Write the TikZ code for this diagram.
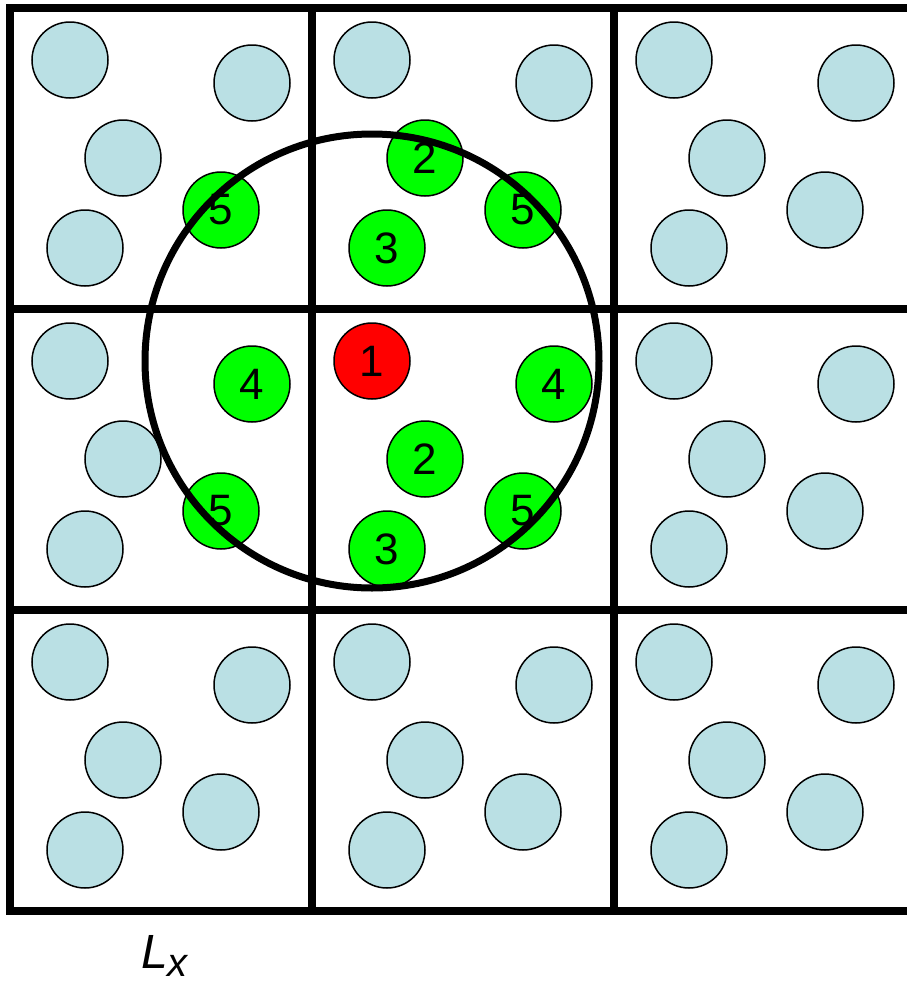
\documentclass[tikz,border=0pt]{standalone}
\usepackage{fontspec}
\setmainfont{Liberation Sans}
\definecolor{lightpart}{RGB}{186,224,228}
\definecolor{greenpart}{RGB}{0,255,0}
\definecolor{redpart}{RGB}{255,0,0}
\begin{document}
\begin{tikzpicture}[x=1pt,y=-1pt,
  particle/.style={circle,draw=black,line width=1.5pt,minimum size=76pt,inner sep=0pt,
    font=\fontsize{44}{44}\selectfont},
  plain/.style={particle,fill=lightpart},
  image/.style={particle,fill=greenpart},
  central/.style={particle,fill=redpart},
  gridline/.style={line width=7.5pt,line cap=rect}]
\useasboundingbox (0,0) rectangle (907,983);
\begin{scope}
\clip (0,0) rectangle (907,983);
% grid
\foreach \yy in {8,309,610,911} \draw[gridline] (10,\yy) -- (920,\yy);
\foreach \xx in {10,312,614} \draw[gridline] (\xx,8) -- (\xx,911);
\end{scope}
% pattern offsets A(60,52) B(242,75) C(113,150) D(75,240) E(211,202)
% cells with only plain particles
\foreach \cx/\cy/\cn in {614/8/c,614/309/f,10/610/g,312/610/h,614/610/i}{
  \node[plain] (\cn A) at (\cx+60,\cy+52) {};
  \node[plain] (\cn B) at (\cx+242,\cy+75) {};
  \node[plain] (\cn C) at (\cx+113,\cy+150) {};
  \node[plain] (\cn D) at (\cx+75,\cy+240) {};
  \node[plain] (\cn E) at (\cx+211,\cy+202) {};
}
% top-left cell
\node[plain] (aA) at (70,60) {};
\node[plain] (aB) at (252,83) {};
\node[plain] (aC) at (123,158) {};
\node[plain] (aD) at (85,248) {};
\node[image] (aE) at (221,210) {5};
% top-middle cell
\node[plain] (bA) at (372,60) {};
\node[plain] (bB) at (554,83) {};
\node[image] (bC) at (425,158) {2};
\node[image] (bD) at (387,248) {3};
\node[image] (bE) at (523,210) {5};
% middle-left cell
\node[plain] (dA) at (70,361) {};
\node[image] (dB) at (252,384) {4};
\node[plain] (dC) at (123,459) {};
\node[plain] (dD) at (85,549) {};
\node[image] (dE) at (221,511) {5};
% central cell
\node[central] (p1) at (372,361) {1};
\node[image] (p4) at (554,384) {4};
\node[image] (p2) at (425,459) {2};
\node[image] (p3) at (387,549) {3};
\node[image] (p5) at (523,511) {5};
% cutoff circle
\node[circle,draw=black,line width=7pt,minimum size=454pt,inner sep=0pt] (cutoff) at (372,361) {};
% label
\node[anchor=base west,inner sep=0pt] (lx) at (141,968)
  {\fontsize{48}{48}\selectfont\itshape L\raisebox{-8pt}{\fontsize{40}{40}\selectfont x}};
\end{tikzpicture}
\end{document}
